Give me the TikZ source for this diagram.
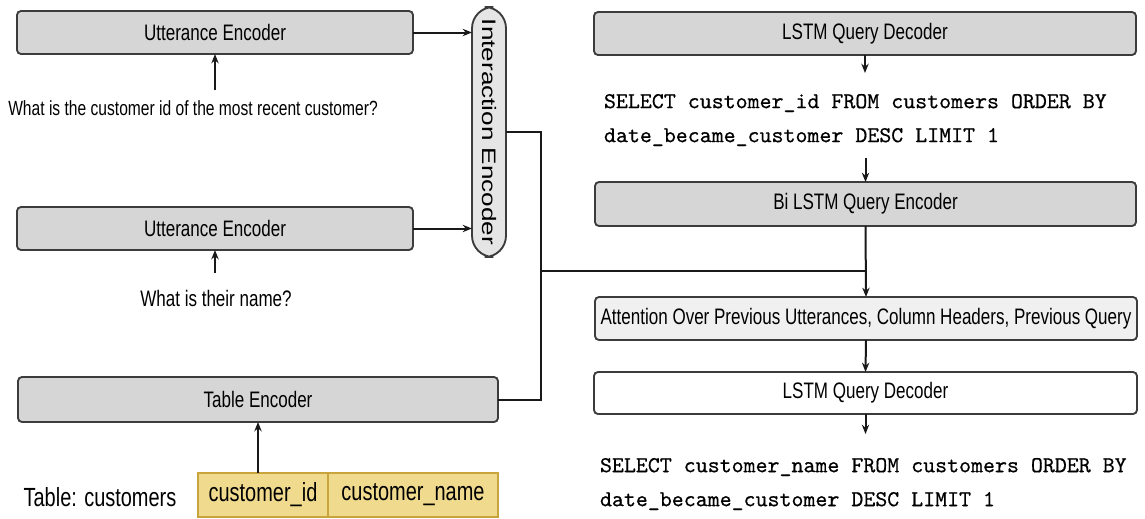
\documentclass[tikz,border=0pt]{standalone}
\usepackage{fontspec}
\setmainfont{Liberation Sans}[FakeStretch=0.76]
\newfontfamily\iefont{Liberation Sans}[FakeStretch=1.34]
\setmonofont{lmmono10-regular.otf}[FakeBold=0.5]
\usetikzlibrary{arrows.meta}

\definecolor{boxgray}{HTML}{D6D6D6}
\definecolor{edgegray}{HTML}{3C3C3C}
\definecolor{cellfill}{HTML}{F0DA8E}
\definecolor{celledge}{HTML}{C9A33C}

\begin{document}
\begin{tikzpicture}[
  x=0.75pt, y=-0.75pt,
  every node/.style={inner sep=0pt, outer sep=0pt},
  sz/.style 2 args={minimum width=#1*0.75pt, minimum height=#2*0.75pt},
  block/.style={draw=edgegray, line width=1.4pt, rounded corners=3pt, fill=boxgray,
                font=\fontsize{16.8}{19}\selectfont},
  lightblock/.style={block, fill=white!94!black},
  whiteblock/.style={block, fill=white},
  cell/.style={draw=celledge, line width=1pt, fill=cellfill,
               font=\fontsize{19.7}{23}\selectfont},
  query/.style={font=\fontsize{17.1}{25.5}\selectfont\ttfamily, align=left, anchor=west},
  wire/.style={line width=1.5pt, black!90},
  arr/.style={wire, -{Stealth[length=7pt, width=5.5pt]}},
]
\useasboundingbox (0,0) rectangle (1145,518);

% ---------- left side: encoders ----------
\node[block, sz={396}{43}] (ue1) at (215,32.5) {Utterance Encoder};
\node[font=\fontsize{15.4}{18}\selectfont] (q1) at (193,108)
  {What is the customer id of the most recent customer?};

\node[block, sz={396}{43}] (ue2) at (215,228.5) {Utterance Encoder};
\node[font=\fontsize{16.8}{19}\selectfont] (q2) at (216,298) {What is their name?};

\node[block, sz={480}{45}] (te) at (258,399.5) {Table Encoder};

\node[font=\fontsize{19.7}{23}\selectfont] (tab) at (100,497) {Table: customers};
\node[cell, sz={130}{44}] (c1) at (263,495) {customer\_id};
\node[cell, sz={170}{44}] (c2) at (413,495) {customer\_name};

\node[draw=edgegray, line width=1.4pt, fill=white!90!black, rounded corners=16pt,
      sz={34}{250}] (ie) at (489,132) {};
\node[rotate=-90, font=\iefont\fontsize{14.6}{17}\selectfont] (iet) at (ie.center)
  {Interaction Encoder};

% ---------- right side: decoder pipeline ----------
\node[block, sz={542}{43}] (dec1) at (865,33.5) {LSTM Query Decoder};
\node[query] (sql1) at (604,120)
  {SELECT customer\_id FROM customers ORDER BY\\date\_became\_customer DESC LIMIT 1};
\node[block, sz={541}{44}] (bienc) at (865.5,204) {Bi LSTM Query Encoder};
\node[lightblock, sz={542}{43}] (attn) at (866,318.5)
  {Attention Over Previous Utterances, Column Headers, Previous Query};
\node[whiteblock, sz={543}{42}] (dec2) at (865.5,393) {LSTM Query Decoder};
\node[query] (sql2) at (600,484)
  {SELECT customer\_name FROM customers ORDER BY\\date\_became\_customer DESC LIMIT 1};

% ---------- connectors ----------
\draw[arr] (ue1.south |- q1.north) ++(0,-10) -- (ue1.south);
\draw[arr] (ue2.south |- q2.north) ++(0,-17) -- (ue2.south);
\draw[arr] (c1.north -| te.south) -- (te.south);

\draw[arr] (ue1.east) -- (ue1.east -| ie.west);
\draw[arr] (ue2.east) -- (ue2.east -| ie.west);

\coordinate (bus) at (541,132);
\coordinate (jl) at (541,271);
\coordinate (jr) at (866,271);
\draw[wire] (ie.east) -- (bus) |- (te.east);
\draw[wire] (jl) -- (jr);

\draw[arr] (dec1.south) -- ++(0,18);
\draw[arr] (sql1.south -| bienc.north) ++(0,12) -- (bienc.north);
\draw[arr] (bienc.south) -- (attn.north);
\draw[arr] (attn.south) -- (dec2.north);
\draw[arr] (dec2.south) -- ++(0,20);
\end{tikzpicture}
\end{document}
